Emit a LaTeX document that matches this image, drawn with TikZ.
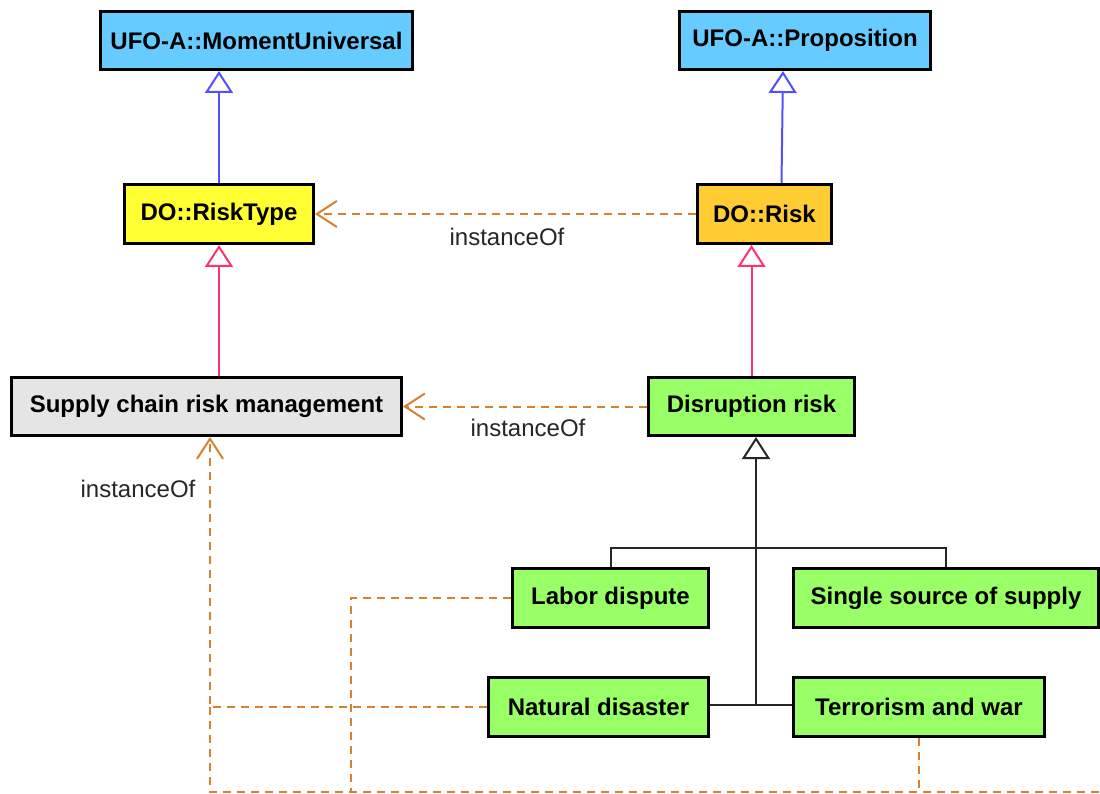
\documentclass[tikz,border=0pt]{standalone}
\usepackage{fontspec}
\setmainfont{Liberation Sans}
\usetikzlibrary{arrows.meta}
\definecolor{ufoblue}{RGB}{102,204,255}
\definecolor{typeyellow}{RGB}{255,255,51}
\definecolor{riskorange}{RGB}{255,204,51}
\definecolor{scrmgray}{RGB}{229,229,229}
\definecolor{riskgreen}{RGB}{153,255,102}
\definecolor{genblue}{RGB}{80,80,255}
\definecolor{genpink}{RGB}{255,51,112}
\definecolor{depbrown}{RGB}{214,128,48}
\begin{document}
\begin{tikzpicture}[x=1pt,y=-1pt,
  cls/.style={draw=black, line width=3pt, inner sep=0pt, anchor=center,
    font=\fontsize{24}{28}\selectfont\bfseries},
  gen/.style={line width=2pt, -{Triangle[fill=white,length=22pt,width=28pt]}},
  treeline/.style={line width=2pt, draw=black!85},
  dep/.style={line width=2pt, draw=depbrown, dash pattern=on 8pt off 6pt},
  deparrow/.style={dep, -{Straight Barb[length=20pt,width=26pt]}},
  lbl/.style={font=\fontsize{24}{28}\selectfont, text=black!85, inner sep=0pt}]
\useasboundingbox (0,0) rectangle (1100,794);
\clip (0,0) rectangle (1100,794);

% classes
\node[cls, fill=ufoblue, minimum width=312pt, minimum height=58pt] (mu) at (256.5,40.5) {UFO-A::MomentUniversal};
\node[cls, fill=ufoblue, minimum width=251pt, minimum height=58pt] (prop) at (805,40.5) {UFO-A::Proposition};
\node[cls, fill=typeyellow, minimum width=189pt, minimum height=59pt] (rt) at (219,214) {DO::RiskType};
\node[cls, fill=riskorange, minimum width=134pt, minimum height=59pt] (risk) at (764.5,214) {DO::Risk};
\node[cls, fill=scrmgray, minimum width=390pt, minimum height=58pt] (scrm) at (206.5,406.5) {Supply chain risk management};
\node[cls, fill=riskgreen, minimum width=206pt, minimum height=58pt] (dr) at (751.5,406.5) {Disruption risk};
\node[cls, fill=riskgreen, minimum width=196pt, minimum height=59pt] (labor) at (610.5,598) {Labor dispute};
\node[cls, fill=riskgreen, minimum width=305pt, minimum height=59pt] (single) at (946,598) {Single source of supply};
\node[cls, fill=riskgreen, minimum width=220pt, minimum height=59pt] (nat) at (598.5,707) {Natural disaster};
\node[cls, fill=riskgreen, minimum width=251pt, minimum height=59pt] (terror) at (919,707) {Terrorism and war};

% generalizations
\draw[gen, genblue] (rt.north) -- (rt.north |- mu.south);
\draw[gen, genblue] ([xshift=17pt]risk.north) -- ([xshift=-22pt]prop.south);
\draw[gen, genpink] (scrm.north -| rt.south) -- (rt.south);
\draw[gen, genpink] (dr.north) -- (dr.north |- risk.south);

% generalization tree below Disruption risk
\coordinate (hub) at (756,548);
\coordinate (low) at (756,705);
\draw[treeline] (labor.north) |- (hub) -| (single.north);
\draw[treeline] (nat.east |- low) -- (terror.west |- low);
\draw[treeline, -{Triangle[fill=white,length=22pt,width=28pt]}] (low) -- (hub) -- (hub |- dr.south);

% instanceOf dependencies
\draw[deparrow] (risk.west) -- (rt.east);
\node[lbl] (l1) at (507,237) {instanceOf};
\draw[deparrow] (dr.west) -- (scrm.east);
\node[lbl] (l2) at (528,428) {instanceOf};

\coordinate (bl) at (210,792);
\coordinate (farright) at (1120,792);
\draw[deparrow] (nat.west) -- (bl |- nat.west) -- (bl |- scrm.south);
\node[lbl] (l3) at (138,489) {instanceOf};
\draw[dep] (bl |- nat.west) -- (bl) -- (farright);
\draw[dep] (labor.west) -- (351,598) -- (351,792);
\draw[dep] (terror.south) -- (terror.south |- bl);
\draw[dep] (single.east) -- (farright |- single.east) -- (farright);
\end{tikzpicture}
\end{document}
